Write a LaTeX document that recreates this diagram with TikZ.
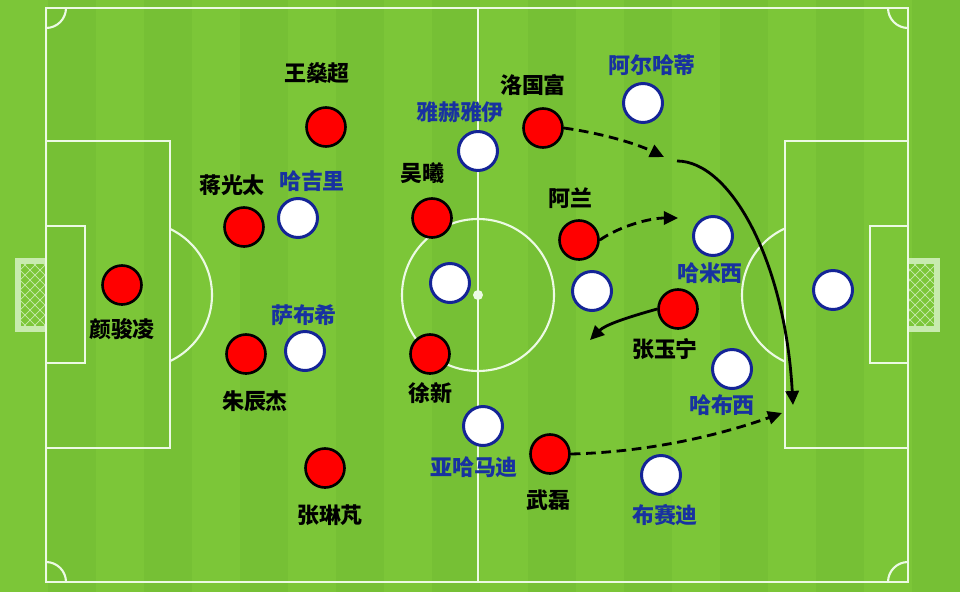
\documentclass[tikz,border=0pt]{standalone}
\usepackage{fontspec}
\newfontfamily\cjk{Noto Sans CJK SC}
\usetikzlibrary{arrows.meta}
\definecolor{grass}{RGB}{124,198,56}
\definecolor{grassband}{RGB}{118,192,53}
\definecolor{chalk}{RGB}{236,250,228}
\definecolor{netpale}{RGB}{200,235,175}
\definecolor{awayblue}{RGB}{20,36,150}
\definecolor{awaytext}{RGB}{24,50,160}
\newcommand{\namefont}{\cjk\bfseries\fontsize{12.5}{14}\selectfont}

\begin{document}
\begin{tikzpicture}[x=0.02cm,y=-0.02cm,
        chalkline/.style={draw=chalk,line width=1.2pt},
        home/.style={circle,draw=black,fill=red,line width=1.5pt,minimum size=0.78cm,inner sep=0pt},
        away/.style={circle,draw=awayblue,fill=white,line width=1.7pt,minimum size=0.78cm,inner sep=0pt},
        homename/.style={text=black,font=\namefont,inner sep=0pt},
        awayname/.style={text=awaytext,font=\namefont,inner sep=0pt},
        move/.style={line width=1.6pt,-{Triangle[length=8pt,width=7.5pt]}},
        runline/.style={move,dash pattern=on 5.5pt off 3.2pt}]
        \useasboundingbox (0,0) rectangle (960,592);
        \fill[grass] (0,0) rectangle (960,592);
        \foreach \s in {0,96,...,900}
            \fill[grassband] (\s+48,0) rectangle (\s+96,592);

        % goals
        \fill[netpale] (15,258) rectangle (46,332);
        \fill[grass] (21,264) rectangle (46,326);
        \fill[netpale] (908,258) rectangle (940,332);
        \fill[grass] (908,264) rectangle (934,326);
        \begin{scope}
            \clip (21,264) rectangle (46,326) (908,264) rectangle (934,326);
            \foreach \k in {-80,-70,...,400} {
                \draw[netpale,line width=0.4pt] (\k,250) -- (\k+100,350);
                \draw[netpale,line width=0.4pt] (\k,350) -- (\k+100,250);
            }
            \foreach \k in {820,830,...,1000} {
                \draw[netpale,line width=0.4pt] (\k,250) -- (\k+100,350);
                \draw[netpale,line width=0.4pt] (\k,350) -- (\k+100,250);
            }
        \end{scope}

        % pitch
        \coordinate (tl) at (46,8);
        \coordinate (br) at (908,582);
        \coordinate (kickoff) at (478,295);
        \draw[chalkline] (tl) rectangle (br);
        \draw[chalkline] (478,8) -- (478,582);
        \draw[chalkline] (kickoff) circle[radius=76];
        \fill[chalk] (kickoff) circle[radius=5];
        \draw[chalkline] (46,141) rectangle (170,448);
        \draw[chalkline] (46,226) rectangle (85,363);
        \draw[chalkline] (785,141) rectangle (908,448);
        \draw[chalkline] (870,226) rectangle (908,363);
        \begin{scope}
            \clip (170,0) rectangle (480,592);
            \draw[chalkline] (139,295) circle[radius=73];
        \end{scope}
        \begin{scope}
            \clip (480,0) rectangle (785,592);
            \draw[chalkline] (815,295) circle[radius=73];
        \end{scope}
        \begin{scope}
            \clip (tl) rectangle (br);
            \foreach \c in {(46,8),(908,8),(46,582),(908,582)}
                \draw[chalkline] \c circle[radius=20];
        \end{scope}

        % home side
        \node[home] (yan) at (122,285) {};
        \node[homename] (yanlbl) at (122,329) {颜骏凌};
        \node[home] (wang) at (326,127) {};
        \node[homename] (wanglbl) at (317,73) {王燊超};
        \node[home] (jiang) at (244,227) {};
        \node[homename] (jianglbl) at (232,185) {蒋光太};
        \node[home] (zhu) at (246,354) {};
        \node[homename] (zhulbl) at (255,401) {朱辰杰};
        \node[home] (zhanglin) at (325,468) {};
        \node[homename] (zhanglinlbl) at (330,515) {张琳芃};
        \node[home] (wuxi) at (432,218) {};
        \node[homename] (wuxilbl) at (422,173) {吴曦};
        \node[home] (xu) at (430,354) {};
        \node[homename] (xulbl) at (430,393) {徐新};
        \node[home] (luo) at (543,128) {};
        \node[homename] (luolbl) at (533,85) {洛国富};
        \node[home] (alan) at (579,240) {};
        \node[homename] (alanlbl) at (570,198) {阿兰};
        \node[home] (zhangyu) at (678,309) {};
        \node[homename] (zhangyulbl) at (665,349) {张玉宁};
        \node[home] (wulei) at (550,454) {};
        \node[homename] (wuleilbl) at (548,500) {武磊};

        % away side
        \node[away] (yahyaei) at (478,151) {};
        \node[awayname] (yahyaeilbl) at (460,112) {雅赫雅伊};
        \node[away] (hajsafi) at (298,218) {};
        \node[awayname] (hajsafilbl) at (312,181) {哈吉里};
        \node[away] (centre) at (450,283) {};
        \node[away] (sabhi) at (305,351) {};
        \node[awayname] (sabhilbl) at (304,315) {萨布希};
        \node[away] (ahmadi) at (483,426) {};
        \node[awayname] (ahmadilbl) at (474,467) {亚哈马迪};
        \node[away] (alhati) at (643,103) {};
        \node[awayname] (alhatilbl) at (652,65) {阿尔哈蒂};
        \node[away] (hamisi) at (713,236) {};
        \node[awayname] (hamisilbl) at (710,273) {哈米西};
        \node[away] (mid) at (592,291) {};
        \node[away] (habsi) at (732,369) {};
        \node[awayname] (habsilbl) at (722,405) {哈布西};
        \node[away] (keeper) at (833,290) {};
        \node[away] (busaidi) at (661,475) {};
        \node[awayname] (busaidilbl) at (665,515) {布赛迪};

        % movements
        \coordinate (luoend) at (664,157);
        \coordinate (crossstart) at (677,161);
        \coordinate (crossend) at (793,405);
        \coordinate (alanend) at (678,218);
        \coordinate (zhangend) at (590,340);
        \coordinate (wuleiend) at (782,413);
        \draw[runline] (luo.east) .. controls (600,133) and (635,143) .. (luoend);
        \draw[move] (crossstart) .. controls (730,161) and (785,260) .. (crossend);
        \draw[runline] (alan.east) .. controls (620,226) and (650,218) .. (alanend);
        \draw[move] (zhangyu.west) .. controls (625,318) and (605,325) .. (zhangend);
        \draw[runline] (wulei.east) .. controls (650,452) and (720,435) .. (wuleiend);
\end{tikzpicture}
\end{document}
